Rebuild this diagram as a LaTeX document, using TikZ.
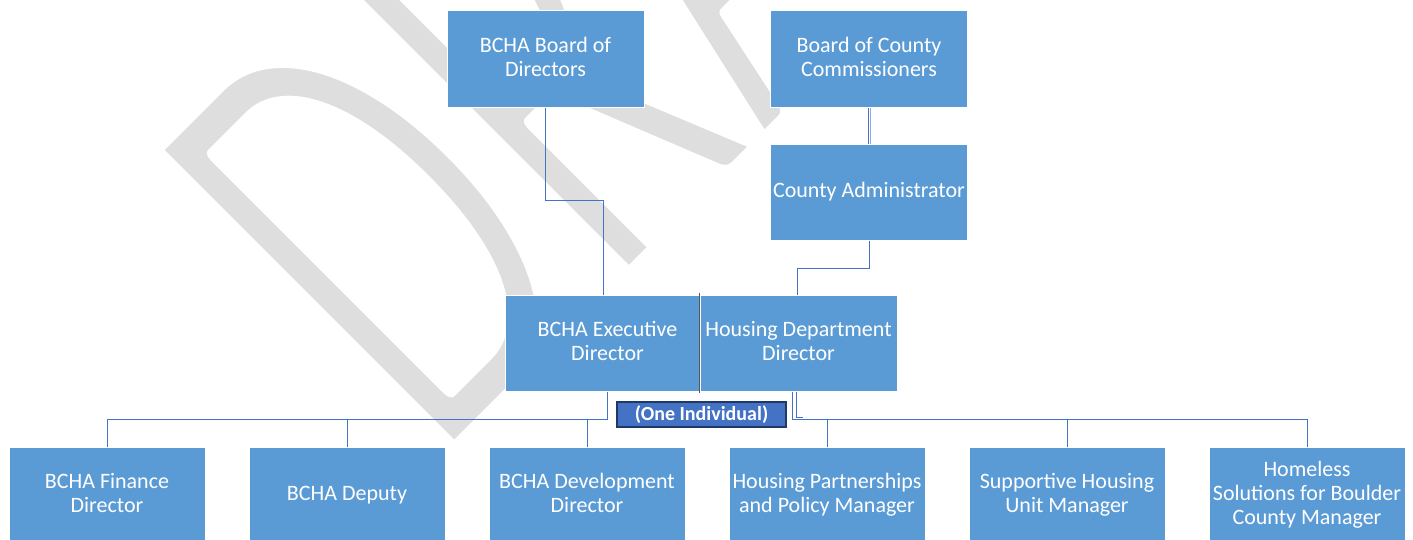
\documentclass[tikz,border=0pt]{standalone}
\usepackage{fontspec}
\setmainfont{Carlito}
\definecolor{boxblue}{HTML}{5B9BD5}
\definecolor{connblue}{HTML}{4472C4}
\definecolor{labelblue}{HTML}{4472C4}
\definecolor{labelborder}{HTML}{1F3864}
\definecolor{wmgray}{RGB}{222,222,222}
\definecolor{splitgray}{HTML}{595959}
\begin{document}
\begin{tikzpicture}[x=1pt,y=-1pt,
  orgbox/.style={draw=white, line width=0.8pt, fill=boxblue, text=white, align=center,
    inner sep=0pt, font=\fontsize{22}{24}\selectfont, minimum width=197pt, minimum height=97pt},
  conn/.style={draw=connblue, line width=0.9pt},
  splitline/.style={draw=splitgray, line width=1pt},
  labelbox/.style={draw=labelborder, line width=1.5pt, fill=labelblue, text=white,
    font=\bfseries\fontsize{20}{22}\selectfont, minimum width=169pt, minimum height=25pt, inner sep=0pt},
  watermark/.style={anchor=base west, inner sep=0pt, outer sep=0pt, rotate=45, text=wmgray,
    font=\fontsize{665}{720}\selectfont}]
\useasboundingbox[fill=white] (0,0) rectangle (1413,540);

% watermark (glyphs thinned by a white outline stroke)
\node[watermark] (wm) at (437.5,468.5) {\scalebox{0.6}[1]{\special{pdf:literal direct 2 Tr 1 1 1 RG 17 w 1 j}DRAFT}};

% boxes
\node[orgbox] (board) at (545.5,59.25) {\strut BCHA Board of\\Directors\strut};
\node[orgbox] (bocc) at (869,59.25) {\strut Board of County\\Commissioners\strut};
\node[orgbox, minimum height=96.5pt] (ca) at (869,192.25) {\strut County Administrator\strut};
\node[orgbox, minimum width=205pt, minimum height=96.5pt] (exec) at (607.5,343.25) {\strut BCHA Executive\\Director\strut};
\node[orgbox, minimum height=96.5pt] (hdd) at (798.5,343.25) {\strut Housing Department\\Director\strut};

\node[orgbox, minimum width=196pt] (b1) at (107,495.5) {\strut BCHA Finance\\Director\strut};
\node[orgbox, minimum width=196pt] (b2) at (347,495.5) {\strut BCHA Deputy\strut};
\node[orgbox, minimum width=196pt] (b3) at (587,495.5) {\strut BCHA Development\\Director\strut};
\node[orgbox, minimum width=196pt] (b4) at (827,495.5) {\strut Housing Partnerships\\and Policy Manager\strut};
\node[orgbox, minimum width=196pt] (b5) at (1067,495.5) {\strut Supportive Housing\\Unit Manager\strut};
\node[orgbox, minimum width=196pt] (b6) at (1307,495.5) {\strut Homeless\\Solutions for Boulder\\County Manager\strut};

% connectors
\draw[conn] (board.south) -- ++(0,92.5) -| ([xshift=-4.5pt]exec.north);
\draw[conn] ([xshift=-0.5pt]bocc.south) -- ([xshift=-0.5pt]ca.north);
\draw[conn, draw opacity=0.6] ([xshift=1.5pt]bocc.south) -- ([xshift=1.5pt]ca.north);
\draw[conn] (ca.south) -- ++(0,27.5) -| ([xshift=-1.5pt]hdd.north);

\draw[conn] (exec.south) -- ++(0,28) coordinate (el) -| (b1.north);
\draw[conn] (b2.north) -- (b2.north |- el);
\draw[conn] (b3.north) -- (b3.north |- el);

\draw[conn] ([xshift=-6pt]hdd.south) -- ++(0,28) coordinate (er) -| (b6.north);
\draw[conn] ([xshift=-2pt]hdd.south) -- ++(0,26) -- ++(6,0);
\draw[conn] (b4.north) -- (b4.north |- er);
\draw[conn] (b5.north) -- (b5.north |- er);

% split between the two director boxes
\draw[splitline] ([yshift=2pt]hdd.north west) -- ([yshift=-1.5pt]hdd.south west);

% label
\node[labelbox] (lbl) at (701.5,414.5) {(One Individual)};
\end{tikzpicture}
\end{document}
